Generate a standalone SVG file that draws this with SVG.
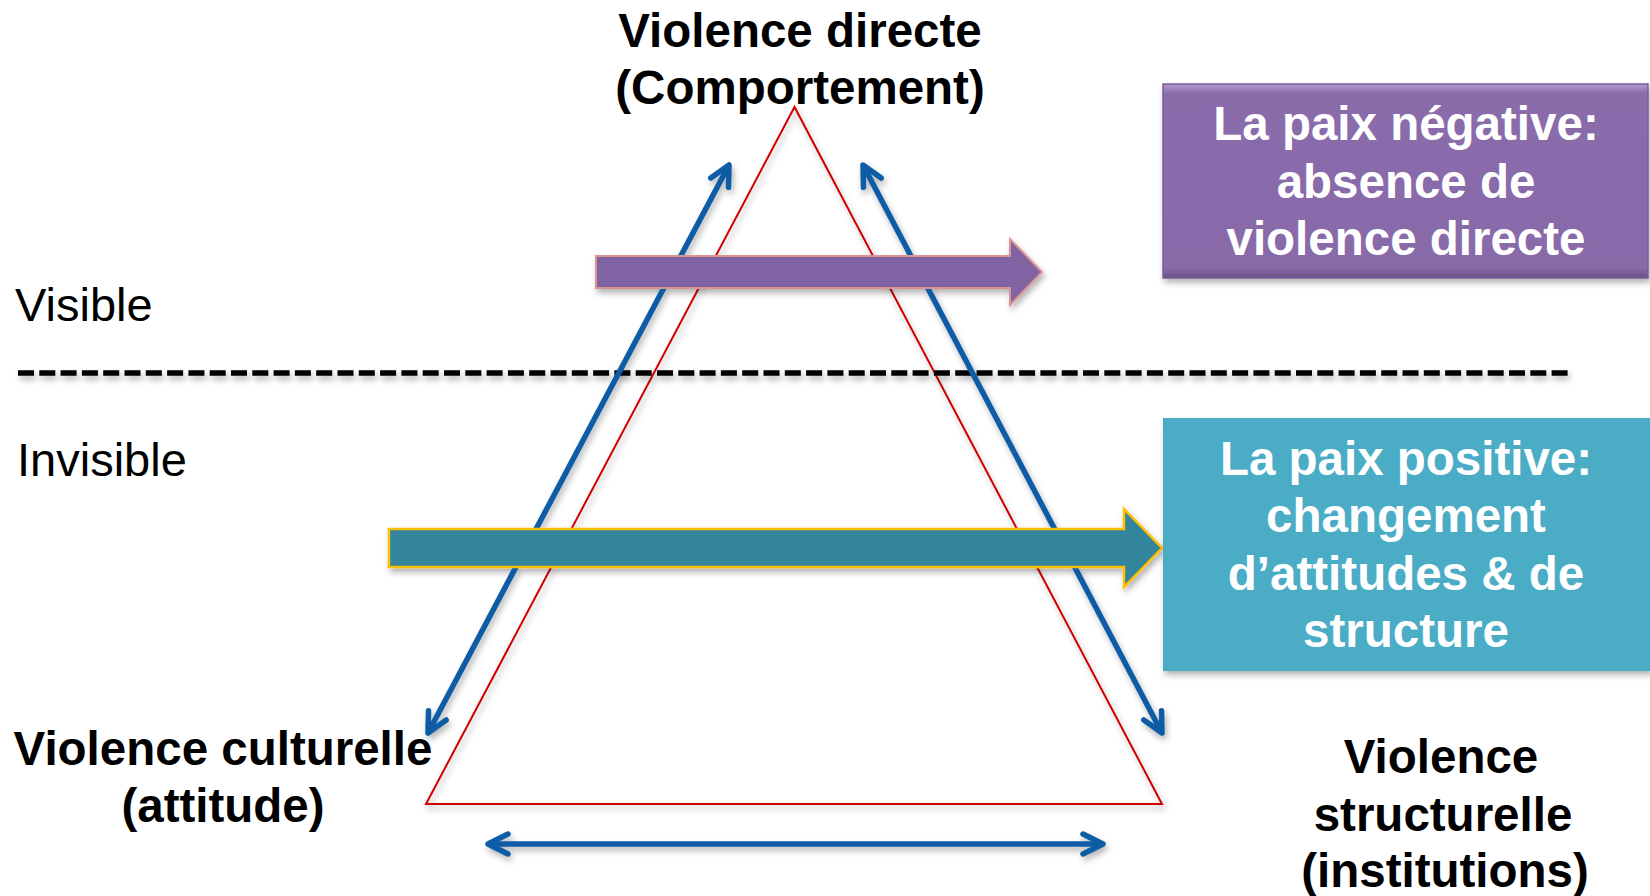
<svg xmlns="http://www.w3.org/2000/svg" width="1650" height="896" viewBox="0 0 1650 896">
  <defs>
    <filter id="sh" x="-10%" y="-30%" width="120%" height="160%">
      <feDropShadow dx="2" dy="4" stdDeviation="3" flood-color="#000" flood-opacity="0.3"/>
    </filter>
    <filter id="shline" filterUnits="userSpaceOnUse" x="0" y="350" width="1650" height="50">
      <feDropShadow dx="2" dy="4" stdDeviation="3" flood-color="#000" flood-opacity="0.3"/>
    </filter>
    <marker id="chev" markerUnits="userSpaceOnUse" viewBox="-26 -16 30 32" markerWidth="30" markerHeight="32" refX="0" refY="0" orient="auto-start-reverse">
      <path d="M-20,-10 L0,0 L-20,10" fill="none" stroke="#0b5ca4" stroke-width="5.5" stroke-linecap="round" stroke-linejoin="round"/>
    </marker>
    <linearGradient id="purp" x1="0" y1="0" x2="0" y2="1">
      <stop offset="0" stop-color="#b49ad0"/>
      <stop offset="0.05" stop-color="#8a6cab"/>
      <stop offset="0.95" stop-color="#886aa9"/>
      <stop offset="1" stop-color="#6a5088"/>
    </linearGradient>
  </defs>
  <style>
    .b { font-family: "Liberation Sans", Arial, sans-serif; font-weight: bold; font-size: 47.5px; fill: #000; text-anchor: middle; }
    .r { font-family: "Liberation Sans", Arial, sans-serif; font-size: 47px; fill: #000; }
    .w { font-family: "Liberation Sans", Arial, sans-serif; font-weight: bold; font-size: 47.5px; fill: #fff; text-anchor: middle; }
    .blue { fill: none; stroke: #0b5ca4; stroke-width: 5.5; marker-start: url(#chev); marker-end: url(#chev); }
  </style>

  <rect width="1650" height="896" fill="#fff"/>

  <g id="triangle" filter="url(#sh)">
    <polygon points="794.5,107 426,804 1162,804" fill="none" stroke="#d00000" stroke-width="2"/>
  </g>

  <g id="separator" filter="url(#shline)">
    <line x1="18" y1="373" x2="1568" y2="373" stroke="#000" stroke-width="5.5" stroke-dasharray="16 5.3"/>
  </g>

  <g id="connectors" filter="url(#sh)">
    <line class="blue" x1="428" y1="733" x2="729" y2="165"/>
    <line class="blue" x1="863" y1="165" x2="1162" y2="733"/>
    <line class="blue" x1="488" y1="844" x2="1103" y2="844"/>
    <polygon points="596,256 1010,256 1010,239 1042,272 1010,305 1010,288 596,288" fill="#8064a2" stroke="#d99594" stroke-width="2"/>
    <polygon points="389,529 1124,529 1124,509 1162,548 1124,587 1124,567 389,567" fill="#31859c" stroke="#ffc000" stroke-width="2.5"/>
  </g>

  <g id="label-direct">
    <text class="b" x="800" y="47">Violence directe</text>
    <text class="b" x="800" y="104">(Comportement)</text>
  </g>

  <g id="label-visible">
    <text class="r" x="15" y="321">Visible</text>
  </g>
  <g id="label-invisible">
    <text class="r" x="17" y="476">Invisible</text>
  </g>

  <g id="label-culturelle">
    <text class="b" x="223" y="765">Violence culturelle</text>
    <text class="b" x="223" y="822">(attitude)</text>
  </g>

  <g id="label-structurelle">
    <text class="b" x="1441" y="773">Violence</text>
    <text class="b" x="1443" y="831">structurelle</text>
    <text class="b" x="1445" y="887">(institutions)</text>
  </g>

  <g id="box-negative">
    <rect x="1163" y="84" width="485" height="194" fill="url(#purp)" stroke="#7a5e9b" stroke-width="1.5" filter="url(#sh)"/>
    <text class="w" x="1406" y="140">La paix négative:</text>
    <text class="w" x="1406" y="198">absence de</text>
    <text class="w" x="1406" y="255">violence directe</text>
  </g>

  <g id="box-positive">
    <rect x="1163" y="418" width="487" height="253" fill="#4bacc6" filter="url(#sh)"/>
    <text class="w" x="1406" y="475">La paix positive:</text>
    <text class="w" x="1406" y="532">changement</text>
    <text class="w" x="1406" y="590">d’attitudes &amp; de</text>
    <text class="w" x="1406" y="647">structure</text>
  </g>
</svg>
